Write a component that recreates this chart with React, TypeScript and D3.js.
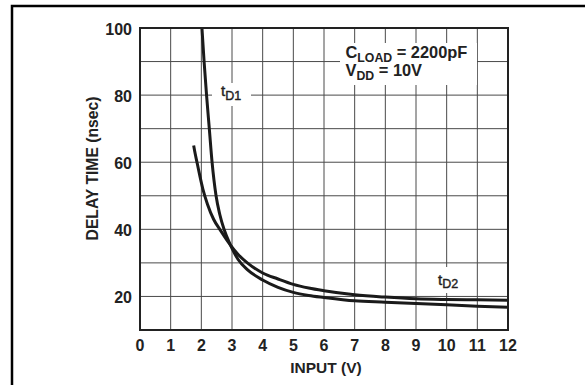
import React from "react";
import * as d3 from "d3";

const xTicks = [0, 1, 2, 3, 4, 5, 6, 7, 8, 9, 10, 11, 12];
const yTicks = [20, 40, 60, 80, 100];
const yGrid = [10, 20, 30, 40, 50, 60, 70, 80, 90, 100];

const tD1X = [2.02, 2.09, 2.17, 2.26, 2.35, 2.48, 2.6, 2.74, 2.95, 3.2, 3.5, 4, 4.5, 5, 5.5, 6, 7, 8, 9, 10, 11, 12];
const tD1Y = [100, 90, 80, 70, 60, 50, 44.5, 40, 35.3, 31, 28, 24.9, 22.7, 21.2, 20.3, 19.7, 18.7, 18.3, 17.9, 17.5, 17.1, 16.8];

const tD2X = [1.75, 1.8, 1.87, 1.95, 2.05, 2.2, 2.4, 2.63, 2.95, 3.2, 3.5, 4, 4.5, 5, 5.5, 6, 7, 8, 9, 10, 11, 12];
const tD2Y = [65, 62.5, 59.5, 56, 52, 47.5, 43, 39.6, 35.3, 32.5, 30, 27, 25.2, 23.6, 22.5, 21.7, 20.5, 19.8, 19.3, 19.1, 19.0, 18.9];

const FONT = "'Liberation Sans', Arial, Helvetica, sans-serif";

export default function App() {
  const W = 585;
  const H = 385;
  const x = d3.scaleLinear().domain([0, 12]).range([140, 508]);
  const y = d3.scaleLinear().domain([10, 100]).range([330, 28]);

  const line = d3
    .line<[number, number]>()
    .x((d) => x(d[0]))
    .y((d) => y(d[1]))
    .curve(d3.curveMonotoneX);

  const s1 = tD1X.map((v, i) => [v, tD1Y[i]] as [number, number]);
  const s2 = tD2X.map((v, i) => [v, tD2Y[i]] as [number, number]);

  const [x0, x1] = x.range();
  const [y0, y1] = y.range();

  return (
    <svg
      width={W}
      height={H}
      style={{ position: "absolute", left: 0, top: 0, background: "#fff" }}
      fontFamily={FONT}
    >
      <rect x={0} y={0} width={W} height={H} fill="#fff" />
      {/* outer frame */}
      <rect x={12} y={6} width={700} height={500} fill="none" stroke="#000" strokeWidth={2.5} />

      {/* grid */}
      {xTicks.map((t) => (
        <line key={"gx" + t} x1={x(t)} x2={x(t)} y1={y1} y2={y0} stroke="#4a4a4a" strokeWidth={1} />
      ))}
      {yGrid.map((t) => (
        <line key={"gy" + t} x1={x0} x2={x1} y1={y(t)} y2={y(t)} stroke="#4a4a4a" strokeWidth={1} />
      ))}

      {/* label backgrounds */}
      <rect x={340} y={43} width={137} height={42} fill="#fff" />
      <rect x={212} y={83} width={39} height={23} fill="#fff" />
      <rect x={432} y={267} width={33} height={26} fill="#fff" />

      {/* curves */}
      <path d={line(s1) || ""} fill="none" stroke="#1a1a1a" strokeWidth={3} />
      <path d={line(s2) || ""} fill="none" stroke="#1a1a1a" strokeWidth={3} />

      {/* plot frame */}
      <rect x={x0} y={y1} width={x1 - x0} height={y0 - y1} fill="none" stroke="#222" strokeWidth={2} />

      {/* y tick labels */}
      {yTicks.map((t) => (
        <text key={"yt" + t} x={132} y={y(t) + 6.5} textAnchor="end" fontSize={16} fontWeight="bold" fill="#222">
          {t}
        </text>
      ))}
      {/* x tick labels */}
      {xTicks.map((t) => (
        <text key={"xt" + t} x={x(t)} y={350.5} textAnchor="middle" fontSize={16} fontWeight="bold" fill="#222">
          {t}
        </text>
      ))}

      {/* axis titles */}
      <text x={326} y={372.7} textAnchor="middle" fontSize={15.5} fontWeight="bold" fill="#222">
        INPUT (V)
      </text>
      <text
        transform={`translate(98,168.5) rotate(-90)`}
        textAnchor="middle"
        fontSize={15.7}
        fontWeight="bold"
        fill="#222"
      >
        DELAY TIME (nsec)
      </text>

      {/* curve labels */}
      <text x={221} y={95.7} fontSize={15} fill="#222" stroke="#222" strokeWidth={0.4}>
        t<tspan fontSize={12.5} dy={4.3}>D1</tspan>
      </text>
      <text x={438} y={285} fontSize={15} fill="#222" stroke="#222" strokeWidth={0.4}>
        t<tspan fontSize={12.5} dy={3.3}>D2</tspan>
      </text>

      {/* conditions */}
      <text x={345.5} y={57.7} fontSize={16.4} fontWeight="bold" fill="#222">
        C<tspan fontSize={12.3} dy={4}>LOAD</tspan>
        <tspan dy={-4}> = 2200pF</tspan>
      </text>
      <text x={345.5} y={75.7} fontSize={16.4} fontWeight="bold" fill="#222">
        V<tspan fontSize={12.3} dy={4.3}>DD</tspan>
        <tspan dy={-4.3}> = 10V</tspan>
      </text>
    </svg>
  );
}
